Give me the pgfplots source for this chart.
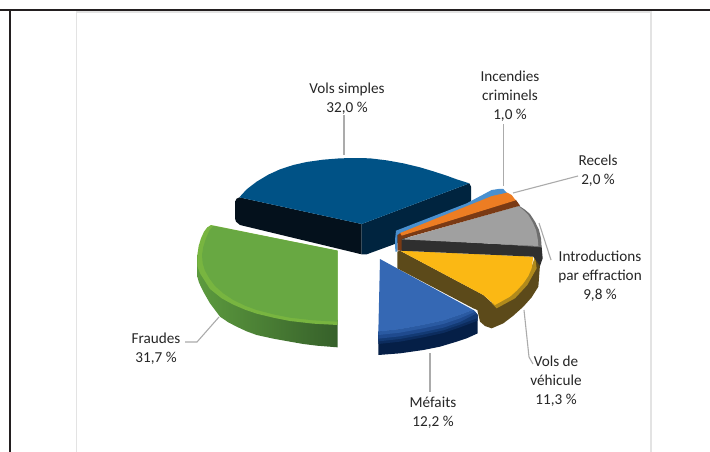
\documentclass[border=0pt]{standalone}
\usepackage{fontspec}
\setmainfont{Carlito}
\usepackage{pgfplots}
\pgfplotsset{compat=1.18}
\definecolor{fr}{HTML}{231F20}
\definecolor{card}{HTML}{E3E3E3}
\definecolor{lead}{HTML}{ABABAB}
\definecolor{HTMLa}{HTML}{04111C}
\definecolor{HTMLb}{HTML}{00243F}
\definecolor{HTMLc}{HTML}{005286}
\definecolor{green1}{HTML}{78B540}
\definecolor{green2}{HTML}{68A842}
\definecolor{green3}{HTML}{5C9A3E}
\definecolor{green4}{HTML}{36602A}
\definecolor{blu1}{HTML}{3568B4}
\definecolor{blu15}{HTML}{2A5AA2}
\definecolor{blu2}{HTML}{1F4A8E}
\definecolor{blu25}{HTML}{133A74}
\definecolor{blu27}{HTML}{0C2C5E}
\definecolor{blu3}{HTML}{051F47}
\definecolor{olive1}{HTML}{5C4A1A}
\definecolor{olive2}{HTML}{B08A1C}
\definecolor{yel}{HTML}{FBB814}
\definecolor{dgray}{HTML}{2F2F2F}
\definecolor{lgray}{HTML}{A0A0A0}
\definecolor{lgray2}{HTML}{6E6E6E}
\definecolor{brown1}{HTML}{7A3A14}
\definecolor{oran}{HTML}{ED7D23}
\definecolor{lblue}{HTML}{4A90CF}
\pgfplotsset{
  zc/.style={x filter/.expression={x/3+190}, y filter/.expression={y/3+140}},
  sl/.style={zc, no marks, draw=none, fill=#1},
  grh/.style 2 args={zc, no marks, draw=none, left color=#1, right color=#2},
  ld/.style={no marks, draw=lead, line width=1.1pt},
  fl/.style={no marks, draw=#1}
}
\tikzset{lb/.style={font=\fontsize{15.2}{19}\selectfont, text=black!85, align=center, inner sep=0pt}}
\begin{document}
\begin{tikzpicture}
\begin{axis}[scale only axis, width=710pt, height=452pt, xmin=0, xmax=710, ymin=0, ymax=452,
  y dir=reverse, axis lines=none, clip=true]
% page
\addplot[no marks, draw=none, fill=white] coordinates {(0,0) (710,0) (710,452) (0,452)};
% frame and card
\addplot[fl=card, line width=1.8pt] coordinates {(76.5,452) (76.5,11.8) (651,11.8) (651,452)};
\addplot[fl=fr, line width=2pt] coordinates {(0,10) (710,10)};
\addplot[fl=fr, line width=2pt] coordinates {(10,10) (10,452)};
% leaders
\addplot[ld] coordinates {(344,115) (344,155)};
\addplot[ld] coordinates {(503.6,124) (503.6,186)};
\addplot[ld] coordinates {(513,193) (578,176)};
\addplot[ld] coordinates {(539,223) (551,260)};
\addplot[ld] coordinates {(524,310) (529,357) (533,364)};
\addplot[ld] coordinates {(430,353) (430,392)};
\addplot[ld] coordinates {(219,317) (197,342) (185,342)};
% Vols simples
\addplot[sl=HTMLa] coordinates {(148,172) (140,176) (135,185) (135,235) (138,245) (150,255) (515,343) (515,252)};
\addplot[sl=HTMLb] coordinates {(515,252) (838,130) (843,140) (843,190) (620,310) (530,343) (515,343)};
\addplot[sl=HTMLc] coordinates {(148,172) (170,148) (200,125) (235,104) (270,88) (310,75) (350,66) (400,59) (450,55) (500,54) (540,55) (590,61) (640,70) (690,82) (730,94) (770,107) (800,118) (838,130) (515,252)};
% Fraudes
\addplot[grh={green3}{green4}] coordinates {(22,345) (22,410) (27,428) (40,455) (60,490) (90,530) (115,547) (140,560) (170,574) (200,585) (250,596) (300,605) (340,612) (380,617) (443,622) (443,540) (200,510) (75,440) (40,385)};
\addplot[sl=green1] coordinates {(63,255) (52,262) (42,275) (33,295) (26,318) (22,345) (22,378) (30,400) (60,447) (95,475) (130,494) (165,509) (200,521) (250,533) (300,543) (370,551) (443,555) (443,332)};
\addplot[sl=green2] coordinates {(70,258) (58,272) (48,295) (40,320) (36,345) (38,370) (45,392) (58,415) (75,438) (100,460) (130,480) (165,497) (200,510) (250,523) (300,533) (370,541) (443,545) (443,332)};
% Mefaits
\addplot[sl=blu3] coordinates {(565,575) (630,568) (700,555) (760,542) (810,525) (850,510) (863,525) (863,580) (830,595) (800,605) (750,620) (700,630) (630,640) (565,645)};
\addplot[sl=blu27] coordinates {(565,575) (630,568) (700,555) (760,542) (810,525) (850,510) (863,525) (863,542) (810,562) (760,579) (700,592) (630,605) (565,612)};
\addplot[sl=blu25] coordinates {(565,575) (630,568) (700,555) (760,542) (810,525) (850,510) (863,525) (863,534) (810,554) (760,571) (700,584) (630,597) (565,604)};
\addplot[sl=blu2] coordinates {(565,575) (630,568) (700,555) (760,542) (810,525) (850,510) (860,520) (810,546) (760,563) (700,576) (630,589) (565,596)};
\addplot[sl=blu15] coordinates {(565,575) (630,568) (700,555) (760,542) (810,525) (850,510) (856,515) (810,535) (760,552) (700,565) (630,578) (565,585)};
\addplot[sl=blu1] coordinates {(570,357) (850,510) (810,525) (760,542) (700,555) (630,568) (565,575)};
% Vols de vehicule
\addplot[sl=olive1] coordinates {(622,335) (630,332) (880,465) (915,497) (960,470) (1000,430) (1030,385) (1035,350) (1050,375) (1045,440) (1025,472) (1000,500) (970,527) (940,550) (905,565) (885,558) (870,545) (862,510) (850,505) (622,385)};
\addplot[sl=olive2] coordinates {(1035,350) (1040,385) (1012,435) (975,475) (920,505) (905,490) (960,460) (1000,420) (1025,380)};
\addplot[sl=yel] coordinates {(630,332) (1030,350) (1025,385) (1015,408) (1000,430) (980,452) (960,470) (915,495) (880,465)};
% Introductions
\addplot[sl=dgray] coordinates {(630,295) (1055,320) (1058,355) (1050,378) (1030,350) (630,332)};
\addplot[sl=lgray2] coordinates {(985,196) (1005,209) (1020,222) (1035,245) (1047,270) (1053,295) (1055,322) (900,310)};
\addplot[sl=lgray] coordinates {(635,298) (985,198) (1002,212) (1015,225) (1028,247) (1038,270) (1043,295) (1045,318)};
% Recels
\addplot[sl=brown1] coordinates {(622,278) (905,172) (978,180) (990,197) (635,297) (635,332) (622,332)};
\addplot[sl=oran] coordinates {(630,278) (905,165) (950,157) (965,165) (977,181) (635,287)};
% Incendies
\addplot[sl=lblue] coordinates {(618,272) (830,190) (905,150) (925,147) (940,147) (950,158) (905,168) (632,278) (622,285) (622,335) (616,335) (615,300)};
% labels
\node[lb] at (axis cs:347,99) {Vols simples\\32,0 \%};
\node[lb] at (axis cs:510,96) {Incendies\\criminels\\1,0 \%};
\node[lb] at (axis cs:598,171) {Recels\\2,0 \%};
\node[lb] at (axis cs:600,276) {Introductions\\par effraction\\9,8 \%};
\node[lb] at (axis cs:556,381) {Vols de\\véhicule\\11,3 \%};
\node[lb] at (axis cs:433,413) {Méfaits\\12,2 \%};
\node[lb] at (axis cs:156,349) {Fraudes\\31,7 \%};
\end{axis}
\end{tikzpicture}
\end{document}
